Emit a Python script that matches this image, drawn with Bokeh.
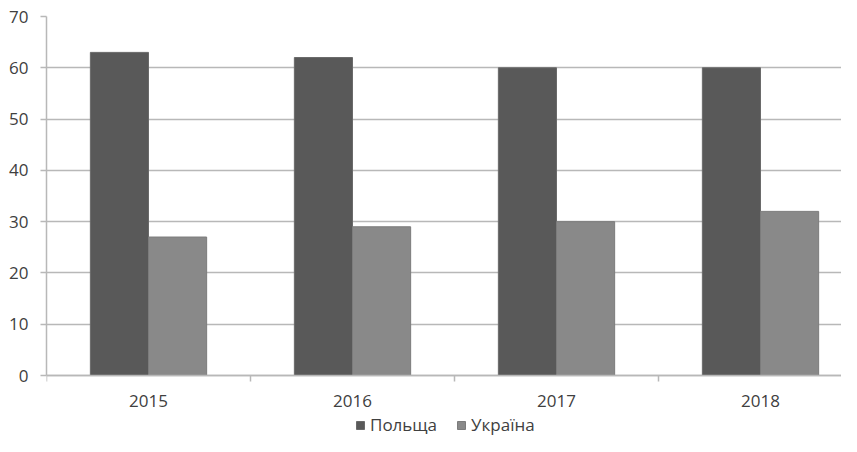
import numpy as np
from bokeh.plotting import figure
from bokeh.models import ColumnDataSource, FixedTicker, Legend, LegendItem, Range1d
from bokeh.transform import dodge
from bokeh.embed import file_html
from bokeh.resources import INLINE

years = ["2015", "2016", "2017", "2018"]
poland = [63, 62, 60, 60]
ukraine = [27, 29, 30, 32]
series_names = ["Польща", "Україна"]
y_ticks = [0, 10, 20, 30, 40, 50, 60, 70]

FONT = "Open Sans"
TXT = "#404040"
GRID = "#b8b8b8"
DARK = "#595959"
LIGHT = "#898989"

pos = np.arange(len(years)) + 0.5
src = ColumnDataSource(dict(x=pos, year=years, poland=poland, ukraine=ukraine))

# frame spans canvas rows 16..436; value 0 sits at row 375, 70 at row 16
y_min = -70 * (436 - 375) / (375 - 16)

p = figure(width=841, height=436, output_backend="svg", toolbar_location=None,
           x_range=Range1d(0, 3.897), y_range=Range1d(y_min, 70),
           min_border_left=46, min_border_right=0, min_border_top=16, min_border_bottom=0)
p.outline_line_color = None

bw = 0.285
r1 = p.vbar(x=dodge("x", -bw / 2, range=p.x_range), top="poland", width=bw, source=src,
            fill_color=DARK, line_color="#6a6a6a", line_width=1)
r2 = p.vbar(x=dodge("x", bw / 2, range=p.x_range), top="ukraine", width=bw, source=src,
            fill_color=LIGHT, line_color="#7c7c7c", line_width=1)

# y axis
p.yaxis.ticker = FixedTicker(ticks=y_ticks)
p.yaxis.bounds = (0, 70)
p.yaxis.axis_line_color = GRID
p.yaxis.axis_line_width = 1.5
p.yaxis.major_tick_line_color = GRID
p.yaxis.major_tick_line_width = 1.5
p.yaxis.major_tick_out = 6
p.yaxis.major_tick_in = 0
p.yaxis.minor_tick_line_color = None
p.yaxis.major_label_standoff = 12
p.yaxis.major_label_text_font = FONT
p.yaxis.major_label_text_font_size = "17px"
p.yaxis.major_label_text_color = TXT

# x axis, pinned at value 0
p.xaxis.fixed_location = 0
p.xaxis.ticker = FixedTicker(ticks=list(pos), minor_ticks=list(np.arange(len(years) + 1)))
p.xaxis.major_label_overrides = {float(v): y for v, y in zip(pos, years)}
p.xaxis.axis_line_color = GRID
p.xaxis.axis_line_width = 1.5
p.xaxis.major_tick_line_color = None
p.xaxis.major_tick_out = 0
p.xaxis.major_tick_in = 0
p.xaxis.minor_tick_line_color = GRID
p.xaxis.minor_tick_line_width = 1.5
p.xaxis.minor_tick_out = 6
p.xaxis.minor_tick_in = 0
p.xaxis.major_label_standoff = 13
p.xaxis.major_label_text_font = FONT
p.xaxis.major_label_text_font_size = "17px"
p.xaxis.major_label_text_color = TXT

p.xgrid.visible = False
p.ygrid.ticker = FixedTicker(ticks=y_ticks)
p.ygrid.grid_line_color = GRID
p.ygrid.grid_line_width = 1.5

legend = Legend(items=[LegendItem(label=series_names[0], renderers=[r1]),
                       LegendItem(label=series_names[1], renderers=[r2])],
                orientation="horizontal", location=(309, 0),
                glyph_width=10, glyph_height=10, label_standoff=5, spacing=19,
                label_height=10, padding=0, margin=0, border_line_color=None,
                background_fill_alpha=0,
                label_text_font=FONT, label_text_font_size="17px", label_text_color=TXT)
p.add_layout(legend, "center")

open("out.html", "w").write(file_html(p, INLINE))
